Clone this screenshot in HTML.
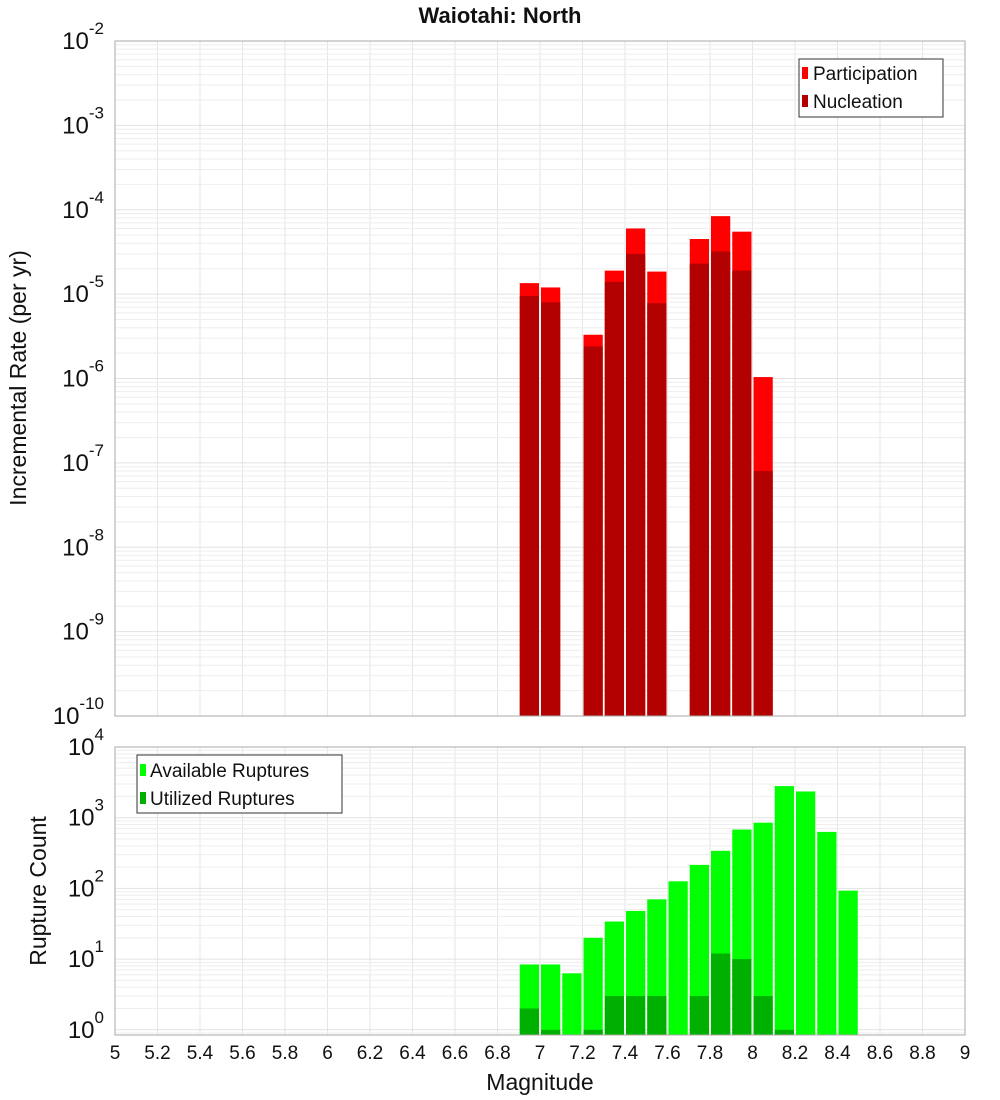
<!DOCTYPE html>
<html><head><meta charset="utf-8"><style>
html,body{margin:0;padding:0;background:#fff}
svg{display:block;font-family:"Liberation Sans","DejaVu Sans",sans-serif}
</style></head><body>
<svg id="c" width="1000" height="1100"></svg>
<script>
const magCenters=[6.95,7.05,7.15,7.25,7.35,7.45,7.55,7.65,7.75,7.85,7.95,8.05];
const participation=[1.35e-5,1.2e-5,0,3.3e-6,1.9e-5,6e-5,1.85e-5,0,4.5e-5,8.4e-5,5.5e-5,1.04e-6];
const nucleation=[9.5e-6,8e-6,0,2.4e-6,1.4e-5,3e-5,7.8e-6,0,2.3e-5,3.2e-5,1.9e-5,8e-8];
const countCenters=[6.95,7.05,7.15,7.25,7.35,7.45,7.55,7.65,7.75,7.85,7.95,8.05,8.15,8.25,8.35,8.45];
const available=[8.4,8.4,6.3,20,34,48,70,126,215,340,680,850,2800,2350,630,93];
const utilized=[2,1,0,1,3,3,3,0,3,12,10,3,1,0,0,0];
const xTicks=[5,5.2,5.4,5.6,5.8,6,6.2,6.4,6.6,6.8,7,7.2,7.4,7.6,7.8,8,8.2,8.4,8.6,8.8,9];
const topExps=[-10,-9,-8,-7,-6,-5,-4,-3,-2];
const botExps=[0,1,2,3,4];

const NS="http://www.w3.org/2000/svg";
const svg=document.getElementById('c');
function el(t,a,p){const e=document.createElementNS(NS,t);for(const k in a)e.setAttribute(k,a[k]);(p||svg).appendChild(e);return e;}
const L=115,R=965;
const xs=m=>L+(m-5)/4*(R-L);
const T1=41,B1=716;
const y1=v=>T1+(-2-Math.log10(v))/8*(B1-T1);
const T2=747,B2=1035,dec2=70.7;
const y2=v=>T2+(4-Math.log10(v))*dec2;

function grid(top,bot,yf,exps,lo,hi){
  const g=el('g',{});
  
  
  xTicks.forEach(t=>el('line',{x1:xs(t),x2:xs(t),y1:top,y2:bot,stroke:'#e6e6e6','stroke-width':1},g));
  for(let e=lo;e<hi;e++)for(let k=1;k<10;k++){const y=yf(k*Math.pow(10,e));if(y<top||y>bot)continue;el('line',{x1:L,x2:R,y1:y,y2:y,stroke:k==1?'#e2e2e2':'#eeeeee','stroke-width':1},g);}
}
grid(T1,B1,y1,topExps,-10,-2);
grid(T2,B2,y2,botExps,-1,4);

// top bars
const bw=(xs(5.1)-xs(5))-2;
magCenters.forEach((m,i)=>{
  const x=xs(m)-bw/2;
  if(participation[i]>0){const r=el('rect',{x:x,y:y1(participation[i]),width:bw,height:B1-y1(participation[i]),fill:'#ff0000'});
    }
  if(nucleation[i]>0){const r=el('rect',{x:x,y:y1(nucleation[i]),width:bw,height:B1-y1(nucleation[i]),fill:'#b30000'});
    }
});
countCenters.forEach((m,i)=>{
  const x=xs(m)-bw/2;
  if(available[i]>0){const r=el('rect',{x:x,y:y2(available[i]),width:bw,height:B2-y2(available[i]),fill:'#00ff00'});
    }
  if(utilized[i]>0){const r=el('rect',{x:x,y:y2(utilized[i]),width:bw,height:B2-y2(utilized[i]),fill:'#00b000'});
    }
});
// frames
let f=el('rect',{x:L,y:T1,width:R-L,height:B1-T1,fill:'none',stroke:'#aaa'});

f=el('rect',{x:L,y:T2,width:R-L,height:B2-T2,fill:'none',stroke:'#aaa'});


function ylab(y,e,name){
  const t=el('text',{x:104,y:y+8,'text-anchor':'end','font-size':24,fill:'#111'});
  
  t.textContent='10';
  const s=el('tspan',{dy:-15,'font-size':17},t);s.textContent=String(e);
}
topExps.forEach(e=>ylab(y1(Math.pow(10,e)),e,'y-tick-label'));
botExps.forEach(e=>ylab(y2(Math.pow(10,e)),e,'y2-tick-label'));
xTicks.forEach(t=>{const tx=el('text',{x:xs(t),y:1059,'text-anchor':'middle','font-size':19,fill:'#111'});
  tx.textContent=String(t);});
</script>
<svg width="0" height="0"></svg>
<div style="position:absolute;left:0;top:0;width:1000px;height:1100px;pointer-events:none">
<svg width="1000" height="1100" style="position:absolute;left:0;top:0">
<text x="500" y="23" text-anchor="middle" font-size="22" font-weight="bold" fill="#111">Waiotahi: North</text>
<text transform="translate(26,378) rotate(-90)" text-anchor="middle" font-size="23" fill="#111">Incremental Rate (per yr)</text>
<text transform="translate(46,891) rotate(-90)" text-anchor="middle" font-size="23" fill="#111">Rupture Count</text>
<text x="540" y="1090" text-anchor="middle" font-size="23" fill="#111">Magnitude</text>
<g>
<rect x="799" y="59" width="144" height="58" fill="#fff" stroke="#333"/>
<rect x="802" y="67" width="6" height="12" fill="#ff0000"/>
<text x="813" y="80" font-size="19" fill="#111">Participation</text>
<rect x="802" y="95" width="6" height="12" fill="#b30000"/>
<text x="813" y="108" font-size="19" fill="#111">Nucleation</text>
</g>
<g>
<rect x="137" y="755" width="205" height="58" fill="#fff" stroke="#333"/>
<rect x="140" y="764" width="6" height="12" fill="#00ff00"/>
<text x="150" y="777" font-size="19" fill="#111">Available Ruptures</text>
<rect x="140" y="792" width="6" height="12" fill="#00b000"/>
<text x="150" y="805" font-size="19" fill="#111">Utilized Ruptures</text>
</g>
</svg></div>
</body></html>
